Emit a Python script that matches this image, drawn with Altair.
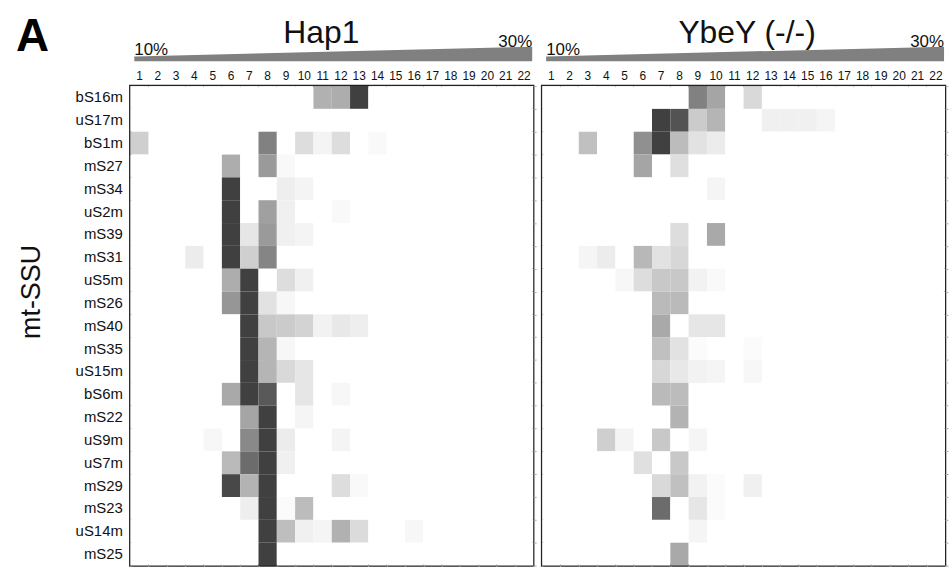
import altair as alt
import pandas as pd

# Mitoribosome small-subunit proteins, top to bottom
proteins = ["bS16m", "uS17m", "bS1m", "mS27", "mS34", "uS2m", "mS39", "mS31",
            "uS5m", "mS26", "mS40", "mS35", "uS15m", "bS6m", "mS22", "uS9m",
            "uS7m", "mS29", "mS23", "uS14m", "mS25"]

# Sucrose gradient fractions and gradient range (%)
fractions = list(range(1, 23))
gradient = [10, 30]

panel_names = ["Hap1", "YbeY (-/-)"]

# Relative abundance (0-100) per protein and fraction; missing fractions are 0
hap1 = {
    "bS16m": {11: 41, 12: 43, 13: 100},
    "bS1m": {1: 25, 8: 66, 10: 18, 11: 6, 12: 18, 14: 3},
    "mS27": {6: 43, 8: 53, 9: 3},
    "mS34": {6: 100, 9: 9, 10: 6},
    "uS2m": {6: 100, 8: 50, 9: 8, 12: 3},
    "mS39": {6: 100, 7: 13, 8: 53, 9: 8, 10: 6},
    "mS31": {4: 10, 6: 100, 7: 25, 8: 64},
    "uS5m": {6: 43, 7: 100, 9: 18, 10: 8},
    "mS26": {6: 55, 7: 100, 8: 15, 9: 4},
    "mS40": {7: 100, 8: 29, 9: 27, 10: 23, 11: 7, 12: 12, 13: 9},
    "mS35": {7: 100, 8: 39, 9: 4},
    "uS15m": {7: 100, 8: 39, 9: 20, 10: 13},
    "bS6m": {6: 45, 7: 100, 8: 87, 10: 13, 12: 4},
    "mS22": {7: 47, 8: 100, 10: 5},
    "uS9m": {5: 4, 7: 62, 8: 100, 9: 10, 12: 6},
    "uS7m": {6: 36, 7: 77, 8: 100, 9: 8},
    "mS29": {6: 96, 7: 40, 8: 100, 12: 18, 13: 3},
    "mS23": {7: 9, 8: 100, 9: 2, 10: 35},
    "uS14m": {8: 100, 9: 34, 10: 8, 11: 5, 12: 41, 13: 19, 16: 4},
    "mS25": {8: 100},
}

ybey = {
    "bS16m": {9: 66, 10: 47, 12: 20},
    "uS17m": {7: 100, 8: 90, 9: 27, 10: 39, 13: 8, 14: 8, 15: 8, 16: 5},
    "bS1m": {3: 33, 6: 58, 7: 100, 8: 35, 9: 15, 10: 10},
    "mS27": {6: 47, 8: 17},
    "mS34": {10: 5},
    "mS39": {8: 18, 10: 45},
    "mS31": {3: 5, 4: 10, 6: 37, 7: 15, 8: 21},
    "uS5m": {5: 4, 6: 18, 7: 29, 8: 29, 9: 7, 10: 3},
    "mS26": {7: 36, 8: 36},
    "mS40": {7: 45, 9: 13, 10: 13},
    "mS35": {7: 33, 8: 15, 9: 2, 12: 2},
    "uS15m": {7: 21, 8: 12, 9: 7, 10: 5, 12: 4},
    "bS6m": {7: 36, 8: 35},
    "mS22": {8: 40},
    "uS9m": {4: 25, 5: 6, 7: 29, 9: 5},
    "uS7m": {6: 16, 8: 29},
    "mS29": {7: 20, 8: 33, 9: 7, 10: 2, 12: 8},
    "mS23": {7: 77, 9: 13, 10: 2},
    "uS14m": {9: 5},
    "mS25": {8: 45},
}

FONT = "Liberation Sans"
W, H = 405, 482


def long_table(profile):
    rows = []
    for p in proteins:
        peaks = profile.get(p, {})
        for f in fractions:
            rows.append({"protein": p, "fraction": f, "abundance": peaks.get(f, 0)})
    return pd.DataFrame(rows)


def panel(name, profile, row_labels, title_x):
    table = long_table(profile)
    xs = alt.Scale(domain=fractions, paddingInner=0, paddingOuter=0)
    ys = alt.Scale(domain=proteins, paddingInner=0, paddingOuter=0)

    y_axis = (alt.Axis(title=None, domain=False, ticks=False, labelFontSize=15,
                       labelPadding=8, labelColor="#111111", labelFont=FONT)
              if row_labels else None)

    heat = alt.Chart(table).mark_rect(strokeWidth=0).encode(
        x=alt.X("fraction:O", scale=xs,
                axis=alt.Axis(orient="top", title=None, domain=False, ticks=False,
                              labelAngle=0, labelFontSize=12, labelPadding=4,
                              labelColor="#111111", labelFont=FONT)),
        y=alt.Y("protein:N", scale=ys, axis=y_axis),
        color=alt.Color("abundance:Q",
                        scale=alt.Scale(domain=[0, 100], range=["#ffffff", "#404040"],
                                        interpolate="rgb"),
                        legend=None),
    )

    # light tick marks along the bottom and right edges at cell boundaries
    frame = alt.Chart(table).mark_rect(opacity=0).encode(
        x=alt.X("fraction:O", scale=xs,
                axis=alt.Axis(orient="bottom", title=None, labels=False, domain=False,
                              tickBand="extent", tickSize=3, tickColor="#aaaaaa")),
        y=alt.Y("protein:N", scale=ys,
                axis=alt.Axis(orient="right", title=None, labels=False, domain=False,
                              tickBand="extent", tickSize=3, tickColor="#aaaaaa")),
    )

    grad = pd.DataFrame({"pct": gradient})
    wx = alt.Scale(domain=gradient, range=[4, 404])
    wy = alt.Scale(domain=[0, 30], range=[-25, -39.5])

    wedge = alt.Chart(grad).mark_area(color="#808080").encode(
        x=alt.X("pct:Q", scale=wx, axis=None),
        y=alt.Y("pct:Q", scale=wy, axis=None),
        y2=alt.datum(0),
    )

    pct_base = alt.Chart(grad).transform_calculate(label="datum.pct + '%'")
    pct_lo = pct_base.transform_filter(f"datum.pct == {gradient[0]}").mark_text(
        align="left", baseline="alphabetic", fontSize=17, font=FONT, dy=-1, color="#111111"
    ).encode(x=alt.X("pct:Q", scale=wx, axis=None),
             y=alt.Y("pct:Q", scale=wy, axis=None), text="label:N")
    pct_hi = pct_base.transform_filter(f"datum.pct == {gradient[1]}").mark_text(
        align="right", baseline="alphabetic", fontSize=17, font=FONT, dy=0, color="#111111"
    ).encode(x=alt.X("pct:Q", scale=wx, axis=None),
             y=alt.Y("pct:Q", scale=wy, axis=None), text="label:N")

    head = alt.Chart(pd.DataFrame({"name": [name]})).mark_text(
        fontSize=32, font=FONT, baseline="alphabetic", align="center", color="#111111"
    ).encode(x=alt.value(title_x), y=alt.value(-43), text="name:N")

    layers = [heat, frame, wedge, pct_lo, pct_hi, head]

    if row_labels:
        letter = alt.Chart(pd.DataFrame({"t": ["A"]})).mark_text(
            fontSize=46, font=FONT, fontWeight="bold", align="left",
            baseline="alphabetic", color="#000000"
        ).encode(x=alt.value(-115), y=alt.value(-35), text="t:N")
        ytitle = alt.Chart(pd.DataFrame({"t": ["mt-SSU"]})).mark_text(
            fontSize=27, font=FONT, angle=270, align="center", baseline="middle",
            color="#111111"
        ).encode(x=alt.value(-99), y=alt.value(207), text="t:N")
        layers += [letter, ytitle]

    return alt.layer(*layers).resolve_scale(x="independent", y="independent").properties(
        width=W, height=H)


left = panel(panel_names[0], hap1, True, 192)
right = panel(panel_names[1], ybey, False, 206)

chart = alt.hconcat(left, right, spacing=9, bounds="flush").properties(
    padding={"left": 14, "top": 11, "right": 0, "bottom": 0},
    background="#ffffff",
).configure_view(stroke="#222222", strokeWidth=2.5)

chart.save("out.html", embed_options={"renderer": "svg", "actions": False})
